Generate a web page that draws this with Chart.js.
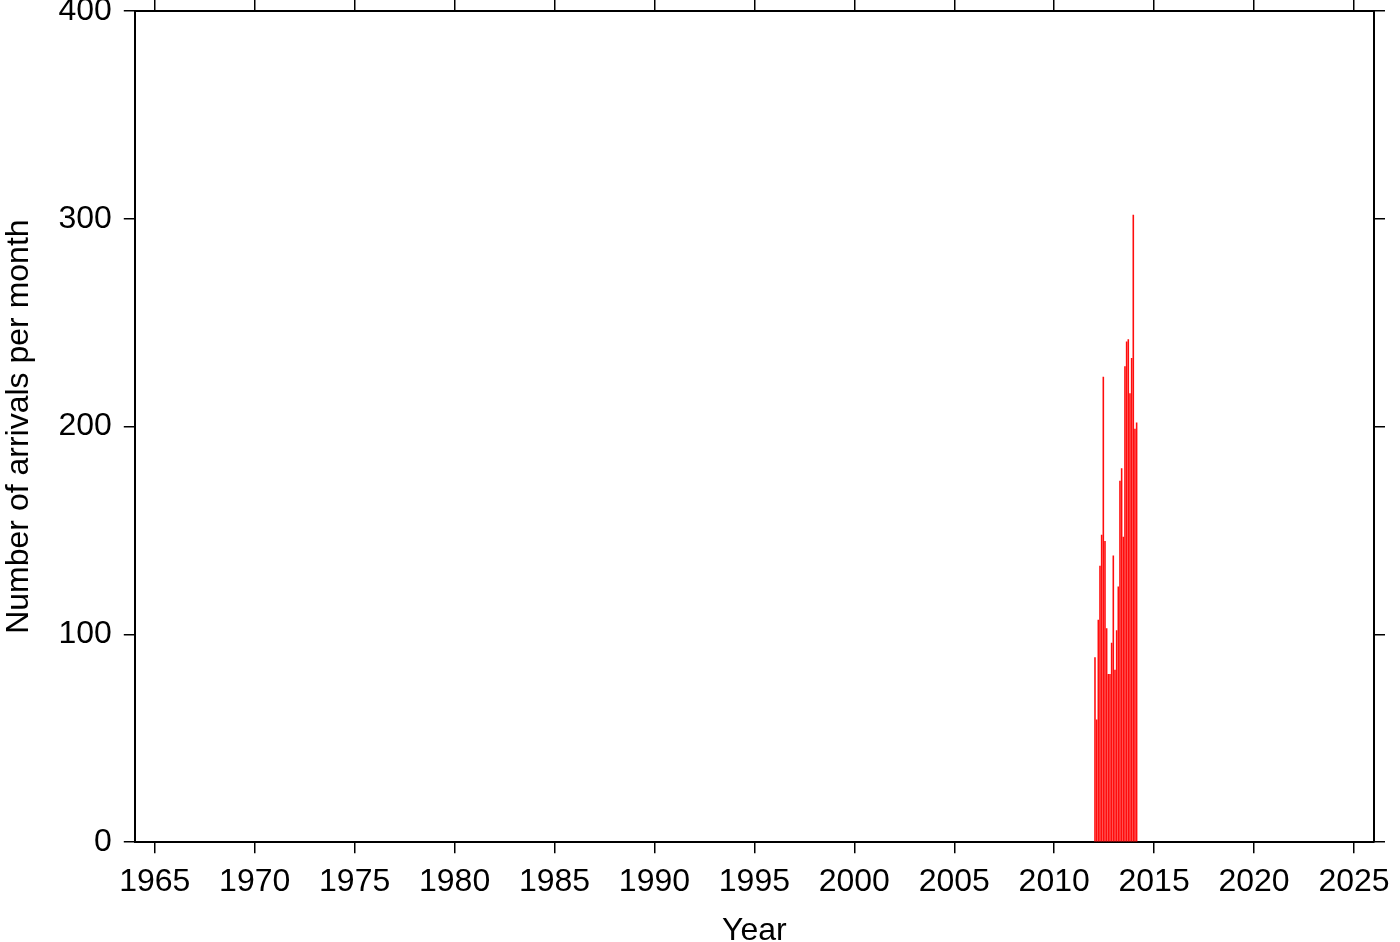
<!DOCTYPE html>
<html>
<head>
<meta charset="utf-8">
<script src="https://cdn.jsdelivr.net/npm/chart.js@4"></script>
<style>
  html, body { margin: 0; padding: 0; background: #fff; }
  #wrap { width: 1400px; height: 942px; }
</style>
</head>
<body>
<div id="wrap"><canvas id="arrivals"></canvas></div>
<script>
// monthly arrival counts, Jan 2012 .. Feb 2014
const months = [
    '2012-01', '2012-02', '2012-03', '2012-04', '2012-05', '2012-06',
    '2012-07', '2012-08', '2012-09', '2012-10', '2012-11', '2012-12',
    '2013-01', '2013-02', '2013-03', '2013-04', '2013-05', '2013-06',
    '2013-07', '2013-08', '2013-09', '2013-10', '2013-11', '2013-12',
    '2014-01', '2014-02'
];
const counts = [
    89, 59, 107, 133, 148, 224, 145, 103, 81, 81, 96, 138,
    83, 102, 123, 174, 180, 147, 229, 241, 242, 216, 233, 302,
    199, 202
];
const yearTicks = [1965, 1970, 1975, 1980, 1985, 1990, 1995, 2000, 2005, 2010, 2015, 2020, 2025];
const countTicks = [0, 100, 200, 300, 400];

// month string -> decimal year at middle of the month
function toYear(m) {
    const [y, mo] = m.split('-').map(Number);
    return y + (mo - 0.5) / 12;
}

const points = months.map((m, i) => ({ x: toYear(m), y: counts[i] }));

const FONT = { family: "'Liberation Sans', Arial, sans-serif", size: 32 };

function axis(position, opts) {
    const horiz = position === 'bottom' || position === 'top';
    const tickVals = horiz ? yearTicks : countTicks;
    return Object.assign({
        type: 'linear',
        position,
        min: horiz ? 1964 : 0,
        max: horiz ? 2026 : 400,
        offset: false,
        afterBuildTicks: a => { a.ticks = tickVals.map(v => ({ value: v })); },
        border: { display: true, color: '#000', width: 2 },
        grid: { drawOnChartArea: false, drawTicks: true, tickLength: 11, color: '#000', lineWidth: 1.5, offset: false },
        ticks: { display: false }
    }, opts);
}

new Chart(document.getElementById('arrivals').getContext('2d'), {
    type: 'bar',
    data: {
        datasets: [{
            data: points,
            backgroundColor: '#ff0d0d',
            borderWidth: 0,
            barPercentage: 0.95,
            categoryPercentage: 1,
            xAxisID: 'x',
            yAxisID: 'y'
        }]
    },
    options: {
        responsive: true,
        maintainAspectRatio: false,
        animation: false,
        layout: { padding: { left: 0, right: 8, top: 0, bottom: -8 } },
        plugins: { legend: { display: false }, tooltip: { enabled: false } },
        scales: {
            x: axis('bottom', {
                ticks: { display: true, color: '#000', font: FONT, padding: 10, maxRotation: 0, autoSkip: false,
                    callback: v => String(v) },
                title: { display: true, text: 'Year', color: '#000', font: FONT, padding: { top: 0, bottom: 0 } }
            }),
            x2: axis('top'),
            y: axis('left', {
                ticks: { display: true, color: '#000', font: FONT, padding: 12, callback: v => String(v) },
                title: { display: true, text: 'Number of arrivals per month', color: '#000', font: FONT, padding: { top: 0, bottom: 8 } },
                // the "400" label may poke above the frame, like the original
                afterFit: a => { a.paddingTop = 1; }
            }),
            y2: axis('right')
        }
    }
});
</script>
</body>
</html>
